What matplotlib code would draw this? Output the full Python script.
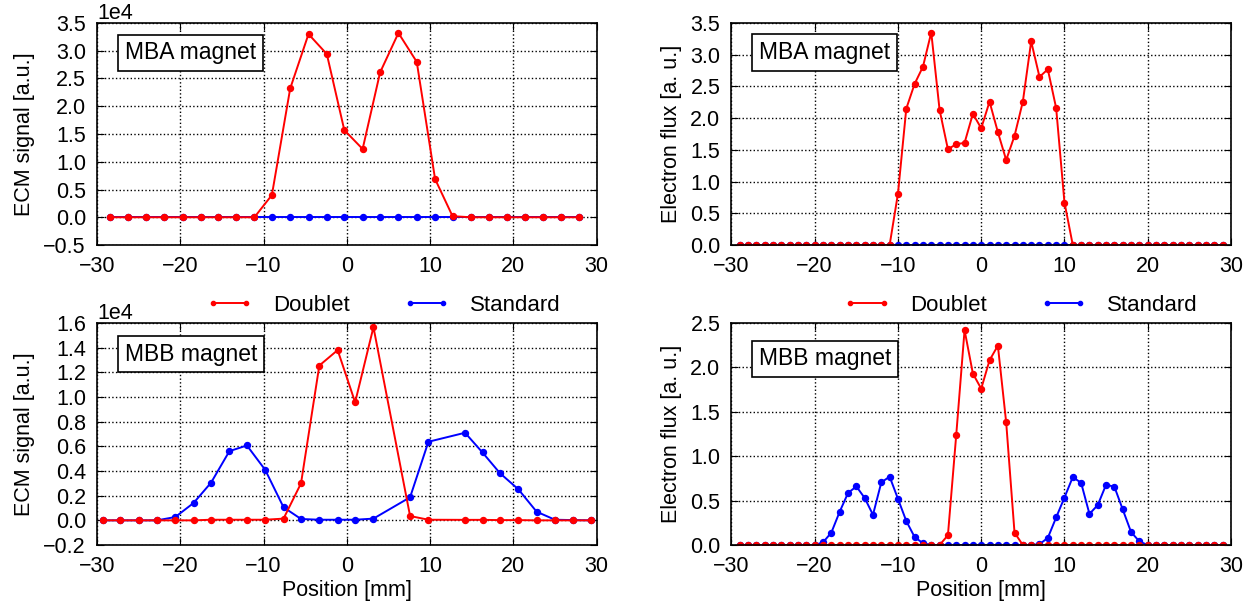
import numpy as np
import matplotlib
matplotlib.use("Agg")
import matplotlib.pyplot as plt

plt.rcParams['font.family'] = ['Liberation Sans', 'DejaVu Sans']
plt.rcParams['font.size'] = 15.5

# ECM signal, MBA magnet (valeurs en unites de 1e4)
x_ecm_mba = [-28.5, -26.3, -24.1, -21.9, -19.7, -17.5, -15.5, -13.3, -11.1,
             -9.0, -6.8, -4.6, -2.4, -0.3, 1.9, 4.0, 6.2, 8.4, 10.6, 12.7,
             14.9, 17.1, 19.2, 21.4, 23.6, 25.7, 27.9]
ecm_mba_doublet = [0, 0, 0, 0, 0, 0, 0, 0, 0,
                   0.40, 2.32, 3.30, 2.94, 1.57, 1.23, 2.61, 3.32, 2.80, 0.69, 0.02,
                   0, 0, 0, 0, 0, 0, 0]
ecm_mba_standard = [0] * 27

# ECM signal, MBB magnet
x_ecm_mbb = [-29.3, -27.2, -25.0, -22.8, -20.6, -18.4, -16.3, -14.1, -12.0,
             -9.8, -7.6, -5.5, -3.3, -1.1, 1.0, 3.2, 7.6, 9.8, 14.2, 16.3,
             18.4, 20.6, 22.8, 25.0, 27.2, 29.3]
ecm_mbb_doublet = [0, 0, 0, 0, 0, 0, 0.005, 0.005, 0.005, 0.005, 0.014, 0.30,
                   1.255, 1.38, 0.957, 1.566, 0.035, 0.005, 0.004, 0.004, 0.002,
                   0.002, 0, 0, 0, 0]
ecm_mbb_standard = [0, 0, 0, 0, 0.027, 0.141, 0.306, 0.561, 0.607, 0.409, 0.106,
                    0.011, 0.005, 0.005, 0.005, 0.014, 0.187, 0.637, 0.71, 0.55,
                    0.382, 0.252, 0.07, 0.005, 0.002, 0]

# Electron flux, x de -29 a 29 mm
x_flux = list(range(-29, 30))
flux_mba_doublet = ([0] * 19
                    + [0.81, 2.15, 2.54, 2.81, 3.35, 2.13, 1.51, 1.59, 1.61, 2.07, 1.84,
                       2.26, 1.78, 1.34, 1.72, 2.26, 3.21, 2.65, 2.77, 2.16, 0.67]
                    + [0] * 19)
flux_mba_standard = [0] * 59
flux_mbb_doublet = ([0] * 25
                    + [0.11, 1.24, 2.42, 1.93, 1.76, 2.08, 2.245, 1.38, 0.14]
                    + [0] * 25)
flux_mbb_standard = ([0] * 10
                     + [0.03, 0.14, 0.375, 0.585, 0.66, 0.53, 0.34, 0.705, 0.77, 0.52,
                        0.27, 0.09, 0.02]
                     + [0] * 13
                     + [0.01, 0.08, 0.31, 0.535, 0.765, 0.70, 0.35, 0.45, 0.68, 0.655,
                        0.40, 0.146, 0.04]
                     + [0] * 10)

fig, axs = plt.subplots(2, 2, figsize=(12.57, 6.13), dpi=100)
plt.subplots_adjust(left=0.0772, right=0.9793, top=0.9625, bottom=0.1109,
                    wspace=0.27, hspace=0.351)

panneaux = [
    (axs[0, 0], x_ecm_mba, np.array(ecm_mba_doublet) * 1e4, np.array(ecm_mba_standard) * 1e4,
     "MBA magnet", "ECM signal [a.u.]", (-0.5e4, 3.5e4), np.arange(-0.5, 3.51, 0.5) * 1e4, 0.865),
    (axs[0, 1], x_flux, flux_mba_doublet, flux_mba_standard,
     "MBA magnet", "Electron flux [a. u.]", (0, 3.5), np.arange(0, 3.51, 0.5), 0.866),
    (axs[1, 0], x_ecm_mbb, np.array(ecm_mbb_doublet) * 1e4, np.array(ecm_mbb_standard) * 1e4,
     "MBB magnet", "ECM signal [a.u.]", (-0.2e4, 1.6e4), np.arange(-0.2, 1.61, 0.2) * 1e4, 0.86),
    (axs[1, 1], x_flux, flux_mbb_doublet, flux_mbb_standard,
     "MBB magnet", "Electron flux [a. u.]", (0, 2.5), np.arange(0, 2.51, 0.5), 0.838),
]

for ax, x, doublet, standard, titre, ylab, ylim, yticks, ybox in panneaux:
    l_std, = ax.plot(x, standard, 'b-', marker='o', ms=4.3, lw=1.4, label="Standard")
    l_dbl, = ax.plot(x, doublet, 'r-', marker='o', ms=4.3, lw=1.4, label="Doublet")
    ax.set_xlim(-30, 30)
    ax.set_xticks(np.arange(-30, 31, 10))
    ax.set_ylim(*ylim)
    ax.set_yticks(yticks)
    ax.set_ylabel(ylab, labelpad=6)
    if ylab.startswith("ECM"):
        ax.ticklabel_format(style='sci', scilimits=(0, 0), axis='y')
    ax.grid(True, color='black', linestyle=':', linewidth=1.0)
    ax.tick_params(direction='in', top=True, right=True, length=5, pad=8)
    for s in ax.spines.values():
        s.set_linewidth(1.2)
    ax.text(0.055, ybox, titre, transform=ax.transAxes, va='center', ha='left', fontsize=16.5,
            bbox=dict(boxstyle='square,pad=0.3', facecolor='white', edgecolor='black', lw=1.2))

axs[1, 0].set_xlabel("Position [mm]", labelpad=2)
axs[1, 1].set_xlabel("Position [mm]", labelpad=2)

for cx in [0.305, 0.812]:
    fig.legend([l_dbl, l_std], ["Doublet", "Standard"], loc='center', bbox_to_anchor=(cx, 0.502),
               ncol=2, frameon=False, numpoints=2, markerscale=0.7, handlelength=2.1,
               handletextpad=0.9, columnspacing=2.4, fontsize=16)

plt.savefig("out.png", dpi=100)
